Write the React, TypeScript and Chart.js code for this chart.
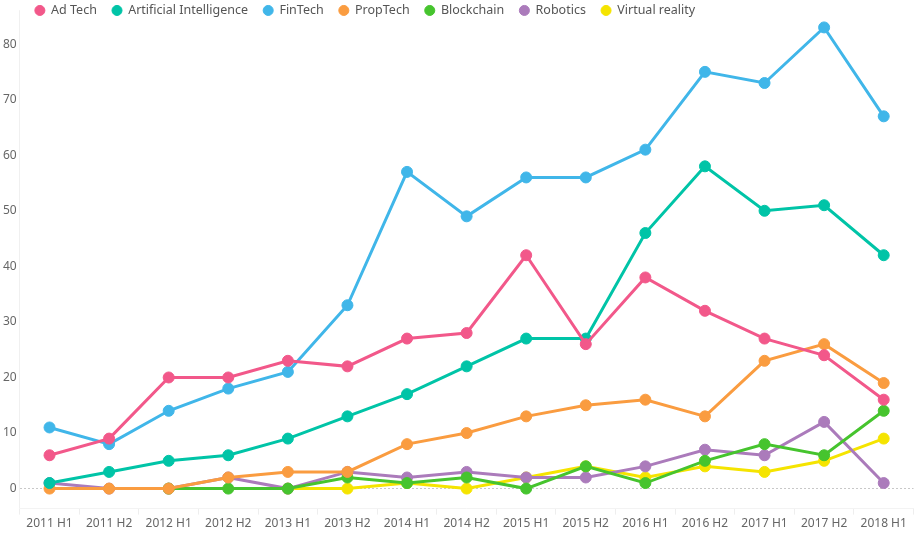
import React, { useEffect, useRef } from "react";
import { Chart, registerables } from "chart.js";

Chart.register(...registerables);

const categories = [
  "2011 H1", "2011 H2", "2012 H1", "2012 H2", "2013 H1", "2013 H2", "2014 H1", "2014 H2",
  "2015 H1", "2015 H2", "2016 H1", "2016 H2", "2017 H1", "2017 H2", "2018 H1",
];

const adTech = [6, 9, 20, 20, 23, 22, 27, 28, 42, 26, 38, 32, 27, 24, 16];
const artificialIntelligence = [1, 3, 5, 6, 9, 13, 17, 22, 27, 27, 46, 58, 50, 51, 42];
const finTech = [11, 8, 14, 18, 21, 33, 57, 49, 56, 56, 61, 75, 73, 83, 67];
const propTech = [0, 0, 0, 2, 3, 3, 8, 10, 13, 15, 16, 13, 23, 26, 19];
const blockchain = [null, null, 0, 0, 0, 2, 1, 2, 0, 4, 1, 5, 8, 6, 14];
const robotics = [1, 0, 0, 2, 0, 3, 2, 3, 2, 2, 4, 7, 6, 12, 1];
const virtualReality = [null, null, null, null, 0, 0, 1, 0, 2, 4, 2, 4, 3, 5, 9];

const seriesNames = ["Ad Tech", "Artificial Intelligence", "FinTech", "PropTech", "Blockchain", "Robotics", "Virtual reality"];
const seriesValues = [adTech, artificialIntelligence, finTech, propTech, blockchain, robotics, virtualReality];
const seriesColors = ["#f2588a", "#00c4a7", "#40b6e9", "#fa9c40", "#46c42e", "#ab7bbb", "#f5e400"];

const FONT = "'Noto Sans', sans-serif";

// Legend overlays the top of the plot area (takes no layout space)
const legendOverlay = {
  id: "legendOverlay",
  beforeLayout(chart: any) {
    const l = chart.legend;
    if (l && !l.__patched) {
      const orig = l.fit.bind(l);
      l.fit = function () {
        orig();
        this.__h = this.height;
        this.height = 0;
      };
      l.__patched = true;
    }
  },
  afterLayout(chart: any) {
    const l = chart.legend;
    if (l) {
      const h = l.__h || 40;
      l.top = -11;
      l.height = h;
      l.bottom = l.top + h;
    }
  },
};

export default function App() {
  const ref = useRef<HTMLCanvasElement | null>(null);

  useEffect(() => {
    document.body.style.margin = "0";
    const canvas = ref.current;
    if (!canvas) return;
    const chart = new Chart(canvas, {
      type: "line",
      data: {
        labels: categories,
        datasets: seriesNames.map((name, i) => ({
          label: name,
          data: seriesValues[i] as any,
          borderColor: seriesColors[i],
          backgroundColor: seriesColors[i],
          pointBackgroundColor: seriesColors[i],
          pointBorderColor: seriesColors[i],
          borderWidth: 3,
          pointRadius: 5.5,
          pointBorderWidth: 1,
          pointHoverRadius: 5.5,
          tension: 0,
          fill: false,
        })),
      },
      plugins: [legendOverlay],
      options: {
        animation: false,
        responsive: false,
        maintainAspectRatio: false,
        layout: { padding: { left: 0, right: 0, top: 0, bottom: 0 } },
        plugins: {
          legend: {
            position: "top",
            align: "start",
            fullSize: false,
            labels: {
              usePointStyle: true,
              pointStyle: "circle",
              boxWidth: 9.9,
              boxHeight: 7.1,
              padding: 15.2,
              color: "#555",
              font: { family: FONT, size: 12.5 },
            },
          },
          tooltip: { enabled: false },
        },
        scales: {
          x: {
            offset: true,
            grid: {
              display: true,
              drawOnChartArea: true,
              drawTicks: true,
              tickLength: 6,
              color: (ctx: any) => (ctx.index === 0 ? "#f0f0f0" : "rgba(0,0,0,0)"),
              tickColor: "#eeeeee",
              offset: true,
            },
            border: { display: true, color: "#f3f3f3" },
            ticks: {
              color: "#666",
              font: { family: FONT, size: 12 },
              maxRotation: 0,
              autoSkip: false,
              padding: 2,
            },
          },
          y: {
            min: -3.6,
            max: 86.1,
            grid: {
              display: true,
              drawTicks: false,
              color: (ctx: any) => (ctx.tick && ctx.tick.value === 0 ? "#c8c8c8" : "rgba(0,0,0,0)"),
              lineWidth: 1,
            },
            border: { display: false, dash: [2, 2] },
            afterBuildTicks: (axis: any) => {
              axis.ticks = axis.ticks.filter((t: any) => t.value >= 0 && t.value % 10 === 0);
            },
            ticks: {
              stepSize: 10,
              color: "#666",
              font: { family: FONT, size: 12 },
              padding: 3,
            },
          },
        },
      },
    });
    return () => chart.destroy();
  }, []);

  return (
    <div style={{ position: "absolute", left: 0, top: 0, width: 920, height: 533 }}>
      <canvas ref={ref} width={920} height={533} style={{ width: 920, height: 533 }} />
    </div>
  );
}
